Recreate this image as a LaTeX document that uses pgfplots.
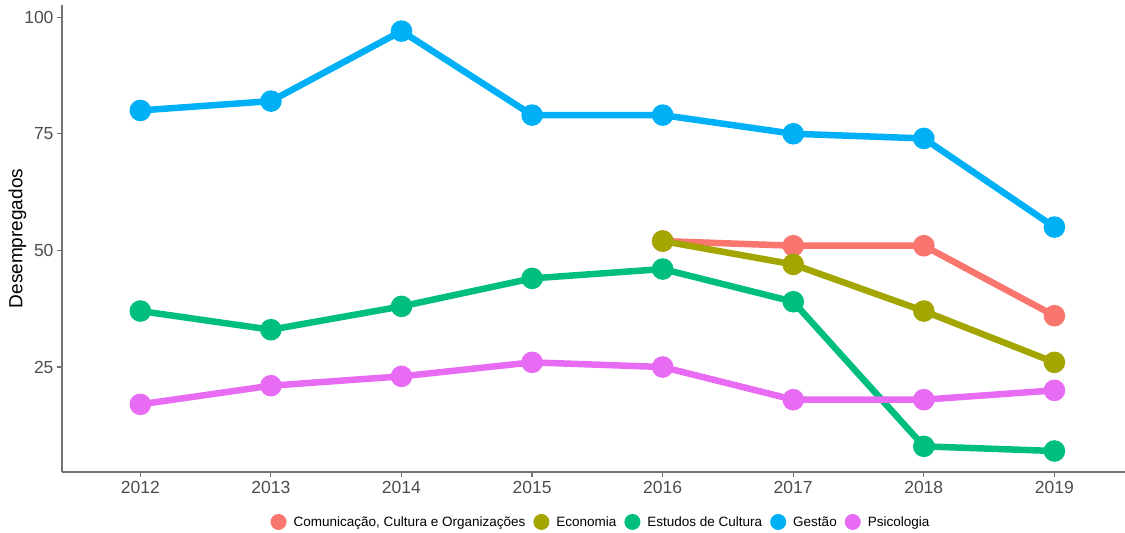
\documentclass[border=0pt]{standalone}
\usepackage{fontspec}
\setmainfont{Liberation Sans}
\usepackage{pgfplots}
\pgfplotsset{compat=1.18}

\definecolor{ccomu}{HTML}{F8766D}
\definecolor{ceco}{HTML}{A3A500}
\definecolor{cest}{HTML}{00BF7D}
\definecolor{cges}{HTML}{00B0F6}
\definecolor{cpsi}{HTML}{E76BF3}
\definecolor{axgray}{HTML}{4D4D4D}

\begin{document}
\begin{tikzpicture}
\begin{axis}[
  scale only axis,
  width=1063pt, height=467pt,
  xmin=2011.4, xmax=2019.54,
  ymin=2.5, ymax=102.6,
  axis lines*=left,
  axis line style={draw=gray!90!black, line width=1.2pt},
  xtick={2012,...,2019},
  ytick={25,50,75,100},
  tick style={draw=gray!90!black, line width=1.2pt},
  tick align=outside,
  major tick length=5pt,
  /pgf/number format/1000 sep={},
  /pgf/number format/assume math mode=true,
  ticklabel style={font=\fontsize{17.5}{19}\selectfont, text=axgray},
  xticklabel style={yshift=-1pt},
  ylabel={Desempregados},
  ylabel style={font=\fontsize{19}{21}\selectfont, yshift=-9pt},
  every axis plot/.append style={line width=6.5pt, mark=*, mark size=7.5pt},
  legend columns=-1,
  legend style={at={(axis description cs:0.507,-0.107)}, anchor=center, draw=none,
    font=\fontsize{13.5}{15}\selectfont, fill=none,
    /tikz/every even column/.append style={column sep=6pt},
    /tikz/every odd column/.append style={column sep=5pt}},
  legend image code/.code={\fill[#1, draw=none] (0pt,0pt) circle (8pt);},
]
% Comunicacao, Cultura e Organizacoes
\addplot[color=ccomu] coordinates {(2016,52) (2017,51) (2018,51) (2019,36)};
% Economia
\addplot[color=ceco] coordinates {(2016,52) (2017,47) (2018,37) (2019,26)};
% Estudos de Cultura
\addplot[color=cest] coordinates {(2012,37) (2013,33) (2014,38) (2015,44) (2016,46) (2017,39) (2018,8) (2019,7)};
% Gestao
\addplot[color=cges] coordinates {(2012,80) (2013,82) (2014,97) (2015,79) (2016,79) (2017,75) (2018,74) (2019,55)};
% Psicologia
\addplot[color=cpsi] coordinates {(2012,17) (2013,21) (2014,23) (2015,26) (2016,25) (2017,18) (2018,18) (2019,20)};
\legend{{Comunicação, Cultura e Organizações}, Economia, Estudos de Cultura, Gestão, Psicologia}
\end{axis}
\pgfresetboundingbox
\path (-62pt,-61pt) rectangle (1063pt,472pt);
\end{tikzpicture}
\end{document}
